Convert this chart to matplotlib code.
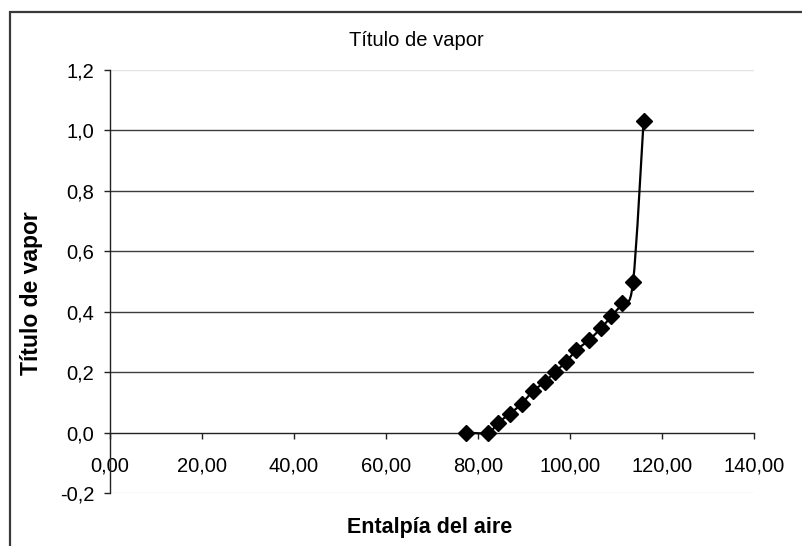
import matplotlib
matplotlib.use('Agg')
import matplotlib.pyplot as plt
import numpy as np
from matplotlib.patches import PathPatch, Rectangle
from matplotlib.path import Path

plt.rcParams['font.family'] = ['Liberation Sans', 'DejaVu Sans']

# Enthalpy of the air vs. vapour quality
entalpia = [77.3, 82.2, 84.4, 87.0, 89.5, 91.9, 94.5, 96.8, 99.1,
            101.4, 104.1, 106.7, 109.0, 111.4, 113.7, 116.0]
titulo = [0.0, 0.0, 0.033, 0.063, 0.096, 0.136, 0.168, 0.201, 0.234,
          0.273, 0.306, 0.345, 0.385, 0.429, 0.497, 1.032]

xticks = [0, 20, 40, 60, 80, 100, 120, 140]
xtick_labels = ['0,00', '20,00', '40,00', '60,00', '80,00', '100,00', '120,00', '140,00']
yticks = [-0.2, 0.0, 0.2, 0.4, 0.6, 0.8, 1.0, 1.2]
ytick_labels = ['-0,2', '0,0', '0,2', '0,4', '0,6', '0,8', '1,0', '1,2']


def smooth_path(x, y):
    """Catmull-Rom style cubic Bezier through the points (spreadsheet 'smoothed line')."""
    pts = np.column_stack([x, y])
    n = len(pts)
    verts = [pts[0]]
    codes = [Path.MOVETO]
    for i in range(n - 1):
        p0 = pts[max(i - 1, 0)]
        p1 = pts[i]
        p2 = pts[i + 1]
        p3 = pts[min(i + 2, n - 1)]
        c1 = p1 + (p2 - p0) / 6.0
        c2 = p2 - (p3 - p1) / 6.0
        verts += [c1, c2, p2]
        codes += [Path.CURVE4] * 3
    return Path(verts, codes)


fig = plt.figure(figsize=(8.03, 5.46), dpi=100)
ax = fig.add_axes([110 / 803, 1 - 493 / 546, 644 / 803, 423 / 546])

# outer chart frame, only top and left edges fall inside the image
fig.patches.append(Rectangle((10 / 803, -0.5), 2.0, 0.5 + (1 - 12 / 546),
                             transform=fig.transFigure, fill=False,
                             ec='#3a3a3a', lw=1.6))

ax.set_xlim(0, 140)
ax.set_ylim(-0.2, 1.2)

# horizontal gridlines and light plot-area border
for v in yticks[2:-1]:
    ax.axhline(v, color='#3c3c3c', lw=1.0, zorder=1)
for v in (-0.2, 1.2):
    ax.axhline(v, color='#e4e4e4', lw=1.0, zorder=1)

ax.add_patch(PathPatch(smooth_path(entalpia, titulo), fill=False,
                       ec='black', lw=1.6, zorder=3))
ax.plot(entalpia, titulo, linestyle='none', marker='D', markersize=8.5,
        color='black', zorder=4)

for side in ('top', 'right'):
    ax.spines[side].set_visible(False)
ax.spines['bottom'].set_position(('data', 0))
ax.spines['bottom'].set_color('#222222')
ax.spines['left'].set_color('#222222')
ax.spines['bottom'].set_linewidth(1.0)
ax.spines['left'].set_linewidth(1.0)

ax.set_xticks(xticks)
ax.set_xticklabels(xtick_labels)
ax.set_yticks(yticks)
ax.set_yticklabels(ytick_labels)
ax.tick_params(axis='x', direction='out', length=4.5, width=1.0,
               pad=13, labelsize=14.5, colors='#222222', labelcolor='black')
ax.tick_params(axis='y', direction='out', length=4.5, width=1.0,
               pad=7, labelsize=14.5, colors='#222222', labelcolor='black')

fig.text(416 / 803, 1 - 41 / 546, 'Título de vapor', ha='center', va='center',
         fontsize=14.5)
fig.text(32 / 803, 1 - 293 / 546, 'Título de vapor', ha='center', va='center',
         rotation=90, fontsize=16.5, fontweight='bold')
fig.text(430 / 803, 1 - 528 / 546, 'Entalpía del aire', ha='center', va='center',
         fontsize=15.5, fontweight='bold')

fig.savefig('out.png', dpi=100)
